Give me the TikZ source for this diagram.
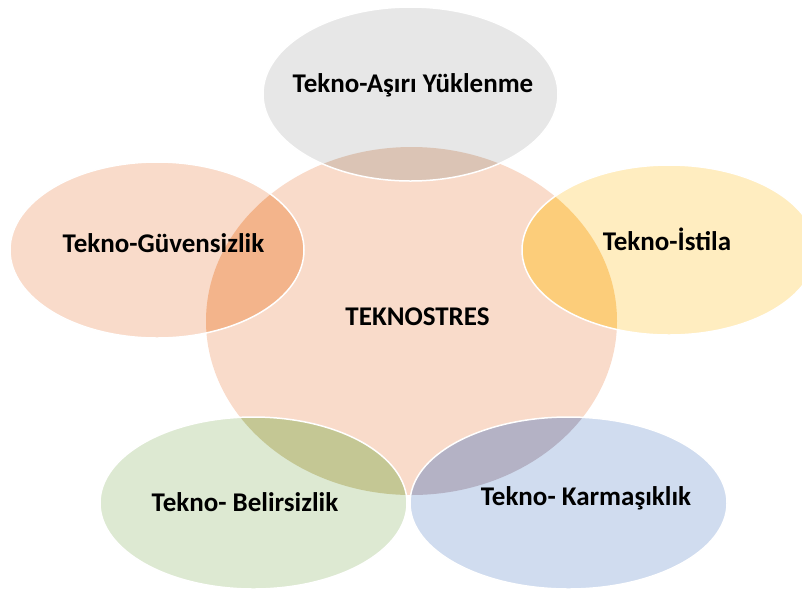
\documentclass[tikz,border=0pt]{standalone}
\usepackage{fontspec}
\setmainfont{Carlito}

\definecolor{coreFill}{RGB}{249,219,202}
\definecolor{grayFill}{RGB}{231,231,231}
\definecolor{grayOver}{RGB}{219,196,181}
\definecolor{peachOver}{RGB}{243,180,139}
\definecolor{yellowFill}{RGB}{255,237,192}
\definecolor{yellowOver}{RGB}{252,205,122}
\definecolor{greenFill}{RGB}{221,233,210}
\definecolor{greenOver}{RGB}{196,199,148}
\definecolor{blueFill}{RGB}{208,220,239}
\definecolor{blueOver}{RGB}{180,178,197}

\newcommand{\coreshape}{(411.5,321) ellipse [x radius=205.5, y radius=174]}

\tikzset{
  petal/.style={draw=white, line width=1.5pt},
  venntext/.style={font=\bfseries\fontsize{27}{30}\selectfont, inner sep=0pt, anchor=base}
}

\begin{document}
\begin{tikzpicture}[x=1pt, y=-1pt]
  \useasboundingbox (0,0) rectangle (802,590);
  \clip (0,0) rectangle (802,590);

  % central circle
  \fill[coreFill] \coreshape;

  % satellites with their overlap on the centre
  \foreach \cx/\cy/\rx/\ry/\fc/\oc in {
      410.5/94/147.5/87/grayFill/grayOver,
      157/250/147/88/coreFill/peachOver,
      669/250/147/85/yellowFill/yellowOver,
      253.5/503/153.5/86/greenFill/greenOver,
      568.5/503/158.5/86/blueFill/blueOver}{
    \fill[\fc] (\cx,\cy) ellipse [x radius=\rx, y radius=\ry];
    \begin{scope}
      \clip \coreshape;
      \fill[\oc] (\cx,\cy) ellipse [x radius=\rx, y radius=\ry];
    \end{scope}
    \draw[petal] (\cx,\cy) ellipse [x radius=\rx, y radius=\ry];
  }

  \node[venntext] (overload) at (413,92) {Tekno-Aşırı Yüklenme};
  \node[venntext] (insecurity) at (163.5,252) {Tekno-Güvensizlik};
  \node[venntext] (invasion) at (667,250) {Tekno-İstila};
  \node[venntext] (core) at (417.5,325) {TEKNOSTRES};
  \node[venntext] (uncertainty) at (245,511) {Tekno- Belirsizlik};
  \node[venntext] (complexity) at (586,505) {Tekno- Karmaşıklık};
\end{tikzpicture}
\end{document}
